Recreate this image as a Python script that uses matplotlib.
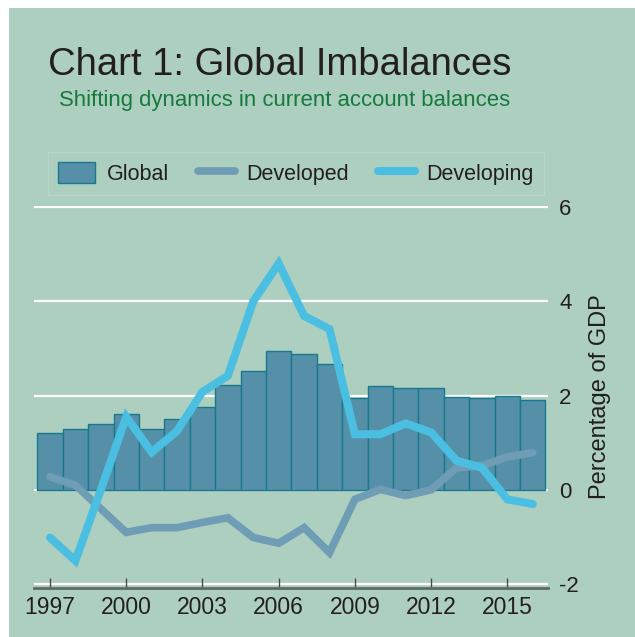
import matplotlib
matplotlib.use("Agg")
import matplotlib.pyplot as plt
from matplotlib.patches import Rectangle

plt.rcParams['font.family'] = ['Liberation Sans', 'DejaVu Sans']
plt.rcParams['axes.unicode_minus'] = False

# data (percentage of GDP)
years = [1997, 1998, 1999, 2000, 2001, 2002, 2003, 2004, 2005, 2006,
         2007, 2008, 2009, 2010, 2011, 2012, 2013, 2014, 2015, 2016]
global_bal = [1.2, 1.3, 1.4, 1.6, 1.3, 1.5, 1.75, 2.22, 2.52, 2.95,
              2.89, 2.68, 1.94, 2.2, 2.16, 2.16, 1.97, 1.94, 2.0, 1.9]
developed = [0.28, 0.1, -0.4, -0.9, -0.8, -0.8, -0.69, -0.59, -1.01, -1.13,
             -0.8, -1.33, -0.2, 0.01, -0.12, 0.0, 0.47, 0.51, 0.7, 0.79]
developing = [-1.01, -1.5, 0.0, 1.55, 0.8, 1.25, 2.08, 2.42, 4.0, 4.8,
              3.69, 3.41, 1.18, 1.18, 1.41, 1.22, 0.62, 0.47, -0.2, -0.3]
xticks = [1997, 2000, 2003, 2006, 2009, 2012, 2015]
yticks = [-2, 0, 2, 4, 6]

bg = '#adcfbf'
W, H = 635, 637

fig = plt.figure(figsize=(W / 100, H / 100), dpi=100, facecolor='white')
fig.patches.append(Rectangle((9 / W, 0), 1, 1 - 8 / H, transform=fig.transFigure,
                             facecolor=bg, edgecolor='none', zorder=-10))

ax = fig.add_axes([34 / W, 0.0769, (548 - 34) / W, 0.6766 - 0.0769])
ax.set_facecolor(bg)

bars = ax.bar(years, global_bal, width=1.0, color='#5590a8', edgecolor='#17798f',
              linewidth=1.0, zorder=2)
l1, = ax.plot(years, developed, color='#6f9db5', lw=5.5, solid_capstyle='round',
              solid_joinstyle='miter', zorder=3)
l2, = ax.plot(years, developing, color='#4bbfe1', lw=5.8, solid_capstyle='round',
              solid_joinstyle='miter', zorder=4)

ax.set_xlim(1996.37, 2016.6)
ax.set_ylim(-2.08, 6.02)
ax.set_yticks(yticks)
ax.set_xticks(xticks)
for v in yticks:
    ax.axhline(v, color='white', lw=1.6, zorder=1)

ax.yaxis.tick_right()
ax.tick_params(axis='y', length=0, pad=8, labelsize=16, colors='#231f20')
ax.tick_params(axis='x', direction='in', length=7, width=1, color='#4a4a4a',
               pad=6, labelsize=16.5, labelcolor='#231f20')
for s in ['top', 'left', 'right']:
    ax.spines[s].set_visible(False)
ax.spines['bottom'].set_color('#5f6b66')
ax.spines['bottom'].set_linewidth(2)

ax.yaxis.set_label_position('right')
ax.set_ylabel('Percentage of GDP', fontsize=17, color='#231f20', labelpad=7)

fig.text(48 / W, 1 - 75 / H, 'Chart 1: Global Imbalances', fontsize=27.5,
         color='#231f20', va='baseline')
fig.text(59 / W, 1 - 106 / H, 'Shifting dynamics in current account balances',
         fontsize=15.9, color='#167a3d', va='baseline')

leg = fig.legend([bars, l1, l2], ['Global', 'Developed', 'Developing'],
                 loc='center', bbox_to_anchor=(296 / W, 1 - 173.5 / H), ncol=3,
                 fontsize=15.5, frameon=True, fancybox=False, handlelength=1.7,
                 handleheight=1.15, handletextpad=0.55, columnspacing=1.35,
                 borderpad=0.45)
leg.get_frame().set_facecolor(bg)
leg.get_frame().set_edgecolor('#bcd9d2')
leg.get_frame().set_linewidth(1)
for t in leg.get_texts():
    t.set_color('#231f20')

fig.savefig('out.png', dpi=100, facecolor=fig.get_facecolor())
